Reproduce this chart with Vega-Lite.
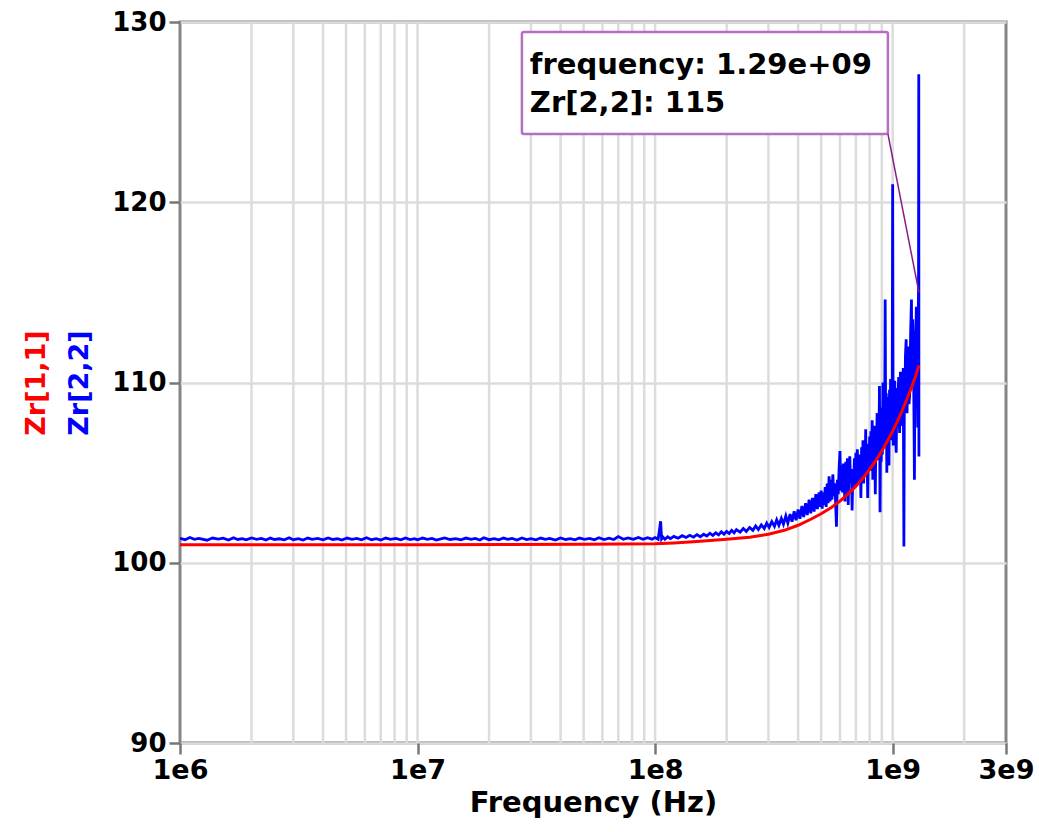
{
  "$schema": "https://vega.github.io/schema/vega-lite/v6.json",
  "autosize": {"type": "none"},
  "width": 826,
  "height": 721,
  "padding": {"left": 180, "top": 22, "right": 33, "bottom": 89},
  "background": "white",
  "config": {
    "view": {"stroke": "#858585", "strokeWidth": 3},
    "font": "DejaVu Sans",
    "axis": {"labelFont": "DejaVu Sans", "labelFontWeight": "bold", "titleFont": "DejaVu Sans", "titleFontWeight": "bold", "labelColor": "black", "titleColor": "black"}
  },
  "datasets": {
    "grid": [
      {"f": 2e6}, {"f": 3e6}, {"f": 4e6}, {"f": 5e6}, {"f": 6e6}, {"f": 7e6}, {"f": 8e6}, {"f": 9e6},
      {"f": 1e7}, {"f": 2e7}, {"f": 3e7}, {"f": 4e7}, {"f": 5e7}, {"f": 6e7}, {"f": 7e7}, {"f": 8e7}, {"f": 9e7},
      {"f": 1e8}, {"f": 2e8}, {"f": 3e8}, {"f": 4e8}, {"f": 5e8}, {"f": 6e8}, {"f": 7e8}, {"f": 8e8}, {"f": 9e8},
      {"f": 1e9}, {"f": 2e9}
    ],
    "zr22": [
      {"f": 1e6, "z": 101.36}, {"f": 1.05e6, "z": 101.28}, {"f": 1.1e6, "z": 101.4}, {"f": 1.15e6, "z": 101.3}, {"f": 1.2e6, "z": 101.35}, {"f": 1.3e6, "z": 101.25},
      {"f": 1.37e6, "z": 101.37}, {"f": 1.45e6, "z": 101.31}, {"f": 1.52e6, "z": 101.36}, {"f": 1.6e6, "z": 101.26}, {"f": 1.68e6, "z": 101.39}, {"f": 1.75e6, "z": 101.29}, {"f": 1.83e6, "z": 101.34}, {"f": 1.9e6, "z": 101.27},
      {"f": 2e6, "z": 101.38}, {"f": 2.1e6, "z": 101.3}, {"f": 2.2e6, "z": 101.35}, {"f": 2.3e6, "z": 101.26}, {"f": 2.4e6, "z": 101.37}, {"f": 2.5e6, "z": 101.29}, {"f": 2.62e6, "z": 101.33}, {"f": 2.75e6, "z": 101.27},
      {"f": 2.88e6, "z": 101.39}, {"f": 3e6, "z": 101.28}, {"f": 3.15e6, "z": 101.34}, {"f": 3.3e6, "z": 101.26}, {"f": 3.45e6, "z": 101.37}, {"f": 3.6e6, "z": 101.3}, {"f": 3.8e6, "z": 101.35}, {"f": 4e6, "z": 101.27},
      {"f": 4.2e6, "z": 101.38}, {"f": 4.4e6, "z": 101.29}, {"f": 4.6e6, "z": 101.33}, {"f": 4.8e6, "z": 101.26}, {"f": 5.05e6, "z": 101.37}, {"f": 5.3e6, "z": 101.3}, {"f": 5.55e6, "z": 101.35}, {"f": 5.8e6, "z": 101.27},
      {"f": 6.1e6, "z": 101.39}, {"f": 6.4e6, "z": 101.28}, {"f": 6.7e6, "z": 101.34}, {"f": 7e6, "z": 101.26}, {"f": 7.35e6, "z": 101.37}, {"f": 7.7e6, "z": 101.3}, {"f": 8.1e6, "z": 101.35}, {"f": 8.5e6, "z": 101.27},
      {"f": 8.9e6, "z": 101.38}, {"f": 9.3e6, "z": 101.29}, {"f": 9.7e6, "z": 101.34},
      {"f": 1e7, "z": 101.27}, {"f": 1.05e7, "z": 101.37}, {"f": 1.1e7, "z": 101.3}, {"f": 1.15e7, "z": 101.35}, {"f": 1.2e7, "z": 101.26}, {"f": 1.3e7, "z": 101.38},
      {"f": 1.37e7, "z": 101.29}, {"f": 1.45e7, "z": 101.34}, {"f": 1.52e7, "z": 101.27}, {"f": 1.6e7, "z": 101.37}, {"f": 1.68e7, "z": 101.3}, {"f": 1.75e7, "z": 101.35}, {"f": 1.83e7, "z": 101.26}, {"f": 1.9e7, "z": 101.39},
      {"f": 2e7, "z": 101.28}, {"f": 2.1e7, "z": 101.34}, {"f": 2.2e7, "z": 101.27}, {"f": 2.3e7, "z": 101.37}, {"f": 2.4e7, "z": 101.3}, {"f": 2.5e7, "z": 101.35}, {"f": 2.62e7, "z": 101.26}, {"f": 2.75e7, "z": 101.38},
      {"f": 2.88e7, "z": 101.29}, {"f": 3e7, "z": 101.34}, {"f": 3.15e7, "z": 101.27}, {"f": 3.3e7, "z": 101.37}, {"f": 3.45e7, "z": 101.3}, {"f": 3.6e7, "z": 101.35}, {"f": 3.8e7, "z": 101.26}, {"f": 4e7, "z": 101.38},
      {"f": 4.2e7, "z": 101.29}, {"f": 4.4e7, "z": 101.34}, {"f": 4.6e7, "z": 101.27}, {"f": 4.8e7, "z": 101.37}, {"f": 5.05e7, "z": 101.3}, {"f": 5.3e7, "z": 101.35}, {"f": 5.55e7, "z": 101.27}, {"f": 5.8e7, "z": 101.39},
      {"f": 6.1e7, "z": 101.29}, {"f": 6.4e7, "z": 101.36}, {"f": 6.7e7, "z": 101.29}, {"f": 7e7, "z": 101.45}, {"f": 7.35e7, "z": 101.3}, {"f": 7.7e7, "z": 101.38}, {"f": 8.1e7, "z": 101.3}, {"f": 8.5e7, "z": 101.4},
      {"f": 8.9e7, "z": 101.3}, {"f": 9.3e7, "z": 101.39}, {"f": 9.7e7, "z": 101.31},
      {"f": 1e8, "z": 101.4}, {"f": 1.03e8, "z": 101.3}, {"f": 1.055e8, "z": 102.3}, {"f": 1.065e8, "z": 101.32},
      {"f": 1.08e8, "z": 101.42}, {"f": 1.1e8, "z": 101.3}, {"f": 1.13e8, "z": 101.44}, {"f": 1.16e8, "z": 101.34}, {"f": 1.2e8, "z": 101.46}, {"f": 1.25e8, "z": 101.36}, {"f": 1.3e8, "z": 101.5},
      {"f": 1.35e8, "z": 101.4}, {"f": 1.4e8, "z": 101.52}, {"f": 1.45e8, "z": 101.42}, {"f": 1.5e8, "z": 101.56}, {"f": 1.55e8, "z": 101.44}, {"f": 1.6e8, "z": 101.58}, {"f": 1.65e8, "z": 101.48}, {"f": 1.7e8, "z": 101.64},
      {"f": 1.75e8, "z": 101.52}, {"f": 1.8e8, "z": 101.66}, {"f": 1.85e8, "z": 101.55}, {"f": 1.9e8, "z": 101.72}, {"f": 1.95e8, "z": 101.58}, {"f": 2e8, "z": 101.74}, {"f": 2.05e8, "z": 101.62}, {"f": 2.1e8, "z": 101.8},
      {"f": 2.15e8, "z": 101.66}, {"f": 2.2e8, "z": 101.84}, {"f": 2.28e8, "z": 101.7}, {"f": 2.35e8, "z": 101.9}, {"f": 2.42e8, "z": 101.74}, {"f": 2.5e8, "z": 101.96}, {"f": 2.58e8, "z": 101.8}, {"f": 2.65e8, "z": 102.04},
      {"f": 2.72e8, "z": 101.84}, {"f": 2.8e8, "z": 102.1}, {"f": 2.88e8, "z": 101.9}, {"f": 2.95e8, "z": 102.2}, {"f": 3.02e8, "z": 101.96}, {"f": 3.1e8, "z": 102.28}, {"f": 3.18e8, "z": 102.02}, {"f": 3.25e8, "z": 102.38},
      {"f": 3.32e8, "z": 102.08}, {"f": 3.4e8, "z": 102.46}, {"f": 3.47e8, "z": 102.14}, {"f": 3.55e8, "z": 102.6}, {"f": 3.62e8, "z": 102.2}, {"f": 3.7e8, "z": 102.7}, {"f": 3.77e8, "z": 102.28}, {"f": 3.85e8, "z": 102.85},
      {"f": 3.92e8, "z": 102.36}, {"f": 4e8, "z": 102.95}, {"f": 4.07e8, "z": 102.44}, {"f": 4.15e8, "z": 103.15}, {"f": 4.22e8, "z": 102.54}, {"f": 4.3e8, "z": 103.3}, {"f": 4.37e8, "z": 102.64}, {"f": 4.45e8, "z": 103.5},
      {"f": 4.52e8, "z": 102.74}, {"f": 4.6e8, "z": 103.6}, {"f": 4.67e8, "z": 102.84}, {"f": 4.75e8, "z": 103.8}, {"f": 4.82e8, "z": 102.98}, {"f": 4.9e8, "z": 103.9}, {"f": 4.95e8, "z": 103.1}, {"f": 5.0e8, "z": 104.0},
      {"f": 5.05e8, "z": 103.0}, {"f": 5.1e8, "z": 103.9}, {"f": 5.15e8, "z": 103.2}, {"f": 5.2e8, "z": 104.2}, {"f": 5.25e8, "z": 103.1}, {"f": 5.3e8, "z": 104.4}, {"f": 5.35e8, "z": 103.3}, {"f": 5.4e8, "z": 104.8},
      {"f": 5.45e8, "z": 103.4}, {"f": 5.5e8, "z": 104.6}, {"f": 5.55e8, "z": 103.5}, {"f": 5.6e8, "z": 104.9}, {"f": 5.65e8, "z": 103.7}, {"f": 5.7e8, "z": 104.4}, {"f": 5.75e8, "z": 103.4}, {"f": 5.8e8, "z": 102.0},
      {"f": 5.85e8, "z": 104.6}, {"f": 5.9e8, "z": 103.8}, {"f": 5.95e8, "z": 105.2}, {"f": 6.0e8, "z": 106.2}, {"f": 6.05e8, "z": 104.0}, {"f": 6.1e8, "z": 105.4}, {"f": 6.15e8, "z": 103.9}, {"f": 6.2e8, "z": 105.5},
      {"f": 6.25e8, "z": 104.2}, {"f": 6.3e8, "z": 103.4}, {"f": 6.35e8, "z": 105.6}, {"f": 6.4e8, "z": 104.3}, {"f": 6.45e8, "z": 105.8}, {"f": 6.5e8, "z": 103.2}, {"f": 6.55e8, "z": 105.4}, {"f": 6.6e8, "z": 105.9},
      {"f": 6.65e8, "z": 104.4}, {"f": 6.7e8, "z": 105.2}, {"f": 6.75e8, "z": 102.9}, {"f": 6.8e8, "z": 105.0}, {"f": 6.85e8, "z": 104.1}, {"f": 6.9e8, "z": 105.8}, {"f": 6.95e8, "z": 104.6}, {"f": 7.0e8, "z": 106.1},
      {"f": 7.05e8, "z": 104.3}, {"f": 7.1e8, "z": 106.3}, {"f": 7.15e8, "z": 104.8}, {"f": 7.2e8, "z": 106.0}, {"f": 7.25e8, "z": 104.5}, {"f": 7.3e8, "z": 105.6}, {"f": 7.35e8, "z": 103.6}, {"f": 7.4e8, "z": 106.4},
      {"f": 7.45e8, "z": 104.7}, {"f": 7.5e8, "z": 106.8}, {"f": 7.55e8, "z": 104.4}, {"f": 7.6e8, "z": 106.5}, {"f": 7.65e8, "z": 105.0}, {"f": 7.7e8, "z": 107.4}, {"f": 7.75e8, "z": 104.9}, {"f": 7.8e8, "z": 106.6},
      {"f": 7.85e8, "z": 103.6}, {"f": 7.9e8, "z": 106.2}, {"f": 7.95e8, "z": 105.2}, {"f": 8.0e8, "z": 107.0}, {"f": 8.05e8, "z": 105.1}, {"f": 8.1e8, "z": 107.3}, {"f": 8.15e8, "z": 105.4}, {"f": 8.2e8, "z": 107.9},
      {"f": 8.25e8, "z": 104.6}, {"f": 8.3e8, "z": 107.2}, {"f": 8.35e8, "z": 105.6}, {"f": 8.4e8, "z": 107.6}, {"f": 8.45e8, "z": 103.8}, {"f": 8.5e8, "z": 107.0}, {"f": 8.55e8, "z": 105.8}, {"f": 8.6e8, "z": 108.3},
      {"f": 8.65e8, "z": 105.7}, {"f": 8.7e8, "z": 108.0}, {"f": 8.75e8, "z": 106.2}, {"f": 8.8e8, "z": 109.8}, {"f": 8.85e8, "z": 102.8}, {"f": 8.9e8, "z": 108.2}, {"f": 8.95e8, "z": 105.6}, {"f": 9.0e8, "z": 108.6},
      {"f": 9.05e8, "z": 106.0}, {"f": 9.1e8, "z": 110.0}, {"f": 9.15e8, "z": 106.4}, {"f": 9.2e8, "z": 108.9}, {"f": 9.25e8, "z": 106.8}, {"f": 9.3e8, "z": 114.6}, {"f": 9.35e8, "z": 106.6}, {"f": 9.4e8, "z": 109.4},
      {"f": 9.45e8, "z": 105.0}, {"f": 9.5e8, "z": 109.2}, {"f": 9.55e8, "z": 106.9}, {"f": 9.6e8, "z": 108.4}, {"f": 9.65e8, "z": 105.4}, {"f": 9.7e8, "z": 109.6}, {"f": 9.75e8, "z": 107.1}, {"f": 9.8e8, "z": 110.2},
      {"f": 9.85e8, "z": 106.8}, {"f": 9.9e8, "z": 108.5}, {"f": 9.95e8, "z": 107.4}, {"f": 1.0e9, "z": 121.0}, {"f": 1.005e9, "z": 106.5}, {"f": 1.01e9, "z": 109.3}, {"f": 1.02e9, "z": 110.1}, {"f": 1.028e9, "z": 107.0},
      {"f": 1.035e9, "z": 106.1}, {"f": 1.042e9, "z": 109.7}, {"f": 1.05e9, "z": 108.9}, {"f": 1.06e9, "z": 110.3}, {"f": 1.065e9, "z": 107.8}, {"f": 1.07e9, "z": 107.2}, {"f": 1.078e9, "z": 110.6}, {"f": 1.085e9, "z": 109.5},
      {"f": 1.092e9, "z": 107.6}, {"f": 1.1e9, "z": 108.0}, {"f": 1.108e9, "z": 110.8}, {"f": 1.115e9, "z": 100.9}, {"f": 1.12e9, "z": 109.6}, {"f": 1.125e9, "z": 108.6}, {"f": 1.132e9, "z": 111.5}, {"f": 1.14e9, "z": 112.4},
      {"f": 1.145e9, "z": 109.0}, {"f": 1.15e9, "z": 108.3}, {"f": 1.158e9, "z": 112.0}, {"f": 1.165e9, "z": 111.2}, {"f": 1.172e9, "z": 108.8}, {"f": 1.18e9, "z": 109.4}, {"f": 1.19e9, "z": 112.7}, {"f": 1.2e9, "z": 114.6},
      {"f": 1.205e9, "z": 109.7}, {"f": 1.21e9, "z": 110.5}, {"f": 1.215e9, "z": 113.5}, {"f": 1.22e9, "z": 112.8}, {"f": 1.228e9, "z": 109.0}, {"f": 1.235e9, "z": 104.6}, {"f": 1.242e9, "z": 112.3}, {"f": 1.25e9, "z": 111.5},
      {"f": 1.258e9, "z": 114.2}, {"f": 1.265e9, "z": 113.8}, {"f": 1.27e9, "z": 110.2}, {"f": 1.275e9, "z": 107.5}, {"f": 1.28e9, "z": 112.9}, {"f": 1.285e9, "z": 115.3}, {"f": 1.288e9, "z": 127.1}, {"f": 1.29e9, "z": 105.9}
    ],
    "zr11": [
      {"f": 1e6, "z": 101.0}, {"f": 1e7, "z": 101.0}, {"f": 5e7, "z": 101.02}, {"f": 1e8, "z": 101.05},
      {"f": 1.2e8, "z": 101.1}, {"f": 1.5e8, "z": 101.18}, {"f": 2e8, "z": 101.3}, {"f": 2.5e8, "z": 101.42},
      {"f": 3e8, "z": 101.58}, {"f": 3.5e8, "z": 101.8}, {"f": 4e8, "z": 102.08}, {"f": 4.5e8, "z": 102.4},
      {"f": 5e8, "z": 102.72}, {"f": 5.5e8, "z": 103.05}, {"f": 6e8, "z": 103.42}, {"f": 6.5e8, "z": 103.82},
      {"f": 7e8, "z": 104.25}, {"f": 7.5e8, "z": 104.7}, {"f": 8e8, "z": 105.18}, {"f": 8.5e8, "z": 105.68},
      {"f": 9e8, "z": 106.2}, {"f": 9.5e8, "z": 106.75}, {"f": 1e9, "z": 107.3}, {"f": 1.05e9, "z": 107.88},
      {"f": 1.1e9, "z": 108.48}, {"f": 1.15e9, "z": 109.1}, {"f": 1.2e9, "z": 109.72}, {"f": 1.25e9, "z": 110.38},
      {"f": 1.29e9, "z": 110.95}
    ],
    "box": [{"f": 2.75e7, "f2": 9.55e8, "z": 123.79, "z2": 129.45}],
    "leader": [{"f": 9.55e8, "f2": 1.29e9, "z": 123.79, "z2": 115}],
    "notes": [
      {"f": 2.97e7, "z": 127.1, "text": "frequency: 1.29e+09"},
      {"f": 2.97e7, "z": 125.0, "text": "Zr[2,2]: 115"}
    ]
  },
  "resolve": {"axis": {"y": "independent"}},
  "layer": [
    {
      "data": {"name": "grid"},
      "mark": {"type": "rule", "color": "#dcdcdc", "strokeWidth": 2.5},
      "encoding": {
        "x": {
          "field": "f", "type": "quantitative", "title": "Frequency (Hz)",
          "scale": {"type": "log", "domain": [1e6, 3e9]},
          "axis": {
            "values": [1e6, 1e7, 1e8, 1e9, 3e9],
            "labelExpr": "datum.value < 2e6 ? '1e6' : datum.value < 2e7 ? '1e7' : datum.value < 2e8 ? '1e8' : datum.value < 2e9 ? '1e9' : '3e9'",
            "grid": false, "domain": false,
            "ticks": true, "tickSize": 11, "tickWidth": 2.5, "tickColor": "#777777",
            "labelFontSize": 27, "labelPadding": 3, "labelFlush": false, "labelBound": false, "labelOverlap": false,
            "titleFontSize": 29, "titlePadding": 5
          }
        }
      }
    },
    {
      "data": {"name": "zr22"},
      "mark": {"type": "line", "color": "#0000ff", "strokeWidth": 2.8, "clip": true},
      "encoding": {
        "x": {"field": "f", "type": "quantitative", "title": "Frequency (Hz)", "scale": {"type": "log", "domain": [1e6, 3e9]}},
        "y": {
          "field": "z", "type": "quantitative",
          "scale": {"domain": [90, 130], "zero": false, "nice": false},
          "axis": {
            "orient": "left",
            "title": "Zr[2,2]", "titleColor": "#0000ff", "titleFontSize": 27, "titlePadding": 18,
            "values": [90, 100, 110, 120, 130],
            "grid": true, "gridColor": "#dcdcdc", "gridWidth": 2.5,
            "domain": false, "ticks": true, "tickSize": 11, "tickWidth": 2.5, "tickColor": "#777777",
            "labelFontSize": 26, "labelPadding": 3
          }
        }
      }
    },
    {
      "data": {"name": "zr11"},
      "mark": {"type": "line", "color": "#ff0000", "strokeWidth": 3, "clip": true},
      "encoding": {
        "x": {"field": "f", "type": "quantitative", "title": "Frequency (Hz)", "scale": {"type": "log", "domain": [1e6, 3e9]}},
        "y": {
          "field": "z", "type": "quantitative",
          "scale": {"domain": [90, 130], "zero": false, "nice": false},
          "axis": {
            "orient": "left",
            "title": "Zr[1,1]", "titleColor": "#ff0000", "titleFontSize": 27, "titlePadding": 130,
            "values": [], "grid": false, "domain": false, "ticks": false, "labels": false
          }
        }
      }
    },
    {
      "data": {"name": "box"},
      "mark": {"type": "rect", "fill": "white", "stroke": "#b46ec4", "strokeWidth": 2.5, "cornerRadius": 2},
      "encoding": {
        "x": {"field": "f", "type": "quantitative", "title": "Frequency (Hz)", "scale": {"type": "log", "domain": [1e6, 3e9]}},
        "x2": {"field": "f2"},
        "y": {"field": "z", "type": "quantitative", "scale": {"domain": [90, 130], "zero": false, "nice": false}, "axis": null},
        "y2": {"field": "z2"}
      }
    },
    {
      "data": {"name": "leader"},
      "mark": {"type": "rule", "color": "#8a1a8a", "strokeWidth": 1.5},
      "encoding": {
        "x": {"field": "f", "type": "quantitative", "title": "Frequency (Hz)", "scale": {"type": "log", "domain": [1e6, 3e9]}},
        "x2": {"field": "f2"},
        "y": {"field": "z", "type": "quantitative", "scale": {"domain": [90, 130], "zero": false, "nice": false}, "axis": null},
        "y2": {"field": "z2"}
      }
    },
    {
      "data": {"name": "notes"},
      "mark": {"type": "text", "align": "left", "baseline": "alphabetic", "font": "DejaVu Sans", "fontWeight": "bold", "fontSize": 29, "color": "black"},
      "encoding": {
        "x": {"field": "f", "type": "quantitative", "title": "Frequency (Hz)", "scale": {"type": "log", "domain": [1e6, 3e9]}},
        "y": {"field": "z", "type": "quantitative", "scale": {"domain": [90, 130], "zero": false, "nice": false}, "axis": null},
        "text": {"field": "text"}
      }
    }
  ]
}
